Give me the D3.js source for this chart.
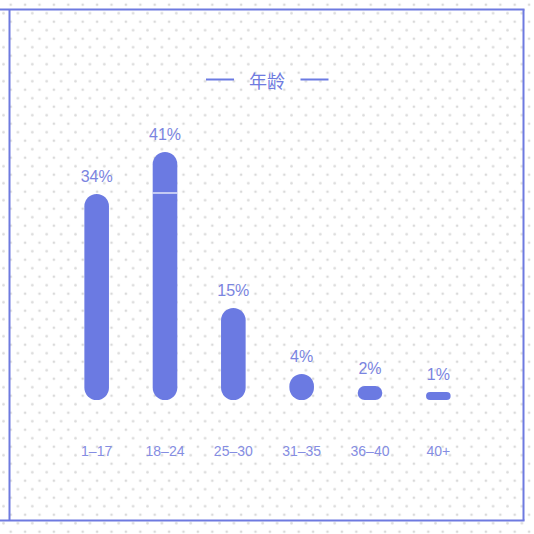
<!DOCTYPE html>
<html><head><meta charset="utf-8">
<script src="https://cdn.jsdelivr.net/npm/d3@7/dist/d3.min.js"></script>
<style>html,body{margin:0;padding:0;background:#fff;}svg{display:block;}</style>
</head><body>
<script>
const categories = ["1–17", "18–24", "25–30", "31–35", "36–40", "40+"];
const values = [34, 41, 15, 4, 2, 1];
const valueLabels = ["34%", "41%", "15%", "4%", "2%", "1%"];
const title = "年龄";

const W = 534, H = 534;
const barColor = "#6b7ae2";
const textColor = "#7a84e0";
const svg = d3.select("body").append("svg").attr("width", W).attr("height", H);

// dotted background
const defs = svg.append("defs");
const dotFill = "#d9d9d9", dotR = 1.35;
const pat = defs.append("pattern").attr("id", "dots").attr("patternUnits", "userSpaceOnUse")
  .attr("width", 14.4).attr("height", 17).attr("x", 10.7).attr("y", 4.7);
[[0,0],[14.4,0],[0,17],[14.4,17],[7.2,8.5]].forEach(p =>
  pat.append("circle").attr("cx", p[0]).attr("cy", p[1]).attr("r", dotR).attr("fill", dotFill));
svg.append("rect").attr("width", W).attr("height", H).attr("fill", "url(#dots)");

// frame
const frame = svg.append("g").attr("stroke", "#6e7ae0").attr("stroke-width", 2).attr("fill", "none");
frame.append("line").attr("x1", 0).attr("x2", 524.5).attr("y1", 9.5).attr("y2", 9.5);
frame.append("line").attr("x1", 0).attr("x2", 524.5).attr("y1", 520.5).attr("y2", 520.5);
frame.append("line").attr("x1", 9.5).attr("x2", 9.5).attr("y1", 9.5).attr("y2", 520.5);
frame.append("line").attr("x1", 523.5).attr("x2", 523.5).attr("y1", 9.5).attr("y2", 520.5);

// title
const tg = svg.append("g");
tg.append("text").attr("x", 267).attr("y", 88).attr("text-anchor", "middle")
  .attr("font-family", "'Noto Sans CJK SC', sans-serif").attr("font-weight", 400)
  .attr("font-size", 18).attr("fill", "#6f7be0").text(title);
tg.append("line").attr("x1", 206).attr("x2", 234).attr("y1", 79.5).attr("y2", 79.5).attr("stroke", barColor).attr("stroke-width", 2);
tg.append("line").attr("x1", 300.5).attr("x2", 328.5).attr("y1", 79.5).attr("y2", 79.5).attr("stroke", barColor).attr("stroke-width", 2);

// scales
const x = d3.scaleBand().domain(categories).range([62.5, 472.5]).paddingInner(0.64).paddingOuter(0.32);
const base = 400;
const y = d3.scaleLinear().domain([0, 41]).range([base - 2, 152]);
const bw = x.bandwidth();

const data = categories.map((c, i) => ({ c, v: values[i], l: valueLabels[i] }));

svg.append("g").selectAll("rect").data(data).join("rect")
  .attr("x", d => x(d.c))
  .attr("y", d => y(d.v))
  .attr("width", bw)
  .attr("height", d => base - y(d.v))
  .attr("rx", d => Math.min(bw, base - y(d.v)) / 2)
  .attr("fill", barColor);

// thin white separator on the tallest bar at the level of the first bar
svg.append("line")
  .attr("x1", x(categories[1])).attr("x2", x(categories[1]) + bw)
  .attr("y1", y(values[0]) - 1).attr("y2", y(values[0]) - 1)
  .attr("stroke", "#fff").attr("stroke-width", 1.2);

svg.append("g").selectAll("text").data(data).join("text")
  .attr("x", d => x(d.c) + bw / 2)
  .attr("y", d => y(d.v) - 12)
  .attr("text-anchor", "middle")
  .attr("font-family", "'Liberation Sans', Arial, sans-serif")
  .attr("font-size", 16).attr("fill", textColor)
  .text(d => d.l);

// category axis
const axis = d3.axisBottom(x).tickSize(0).tickPadding(0);
const ag = svg.append("g").attr("transform", "translate(0,445)").call(axis);
ag.select(".domain").remove();
ag.selectAll("text").attr("font-family", "'Liberation Sans', Arial, sans-serif")
  .attr("font-size", 14).attr("fill", "#858de2").attr("dy", "0.8em");
</script>
</body></html>
